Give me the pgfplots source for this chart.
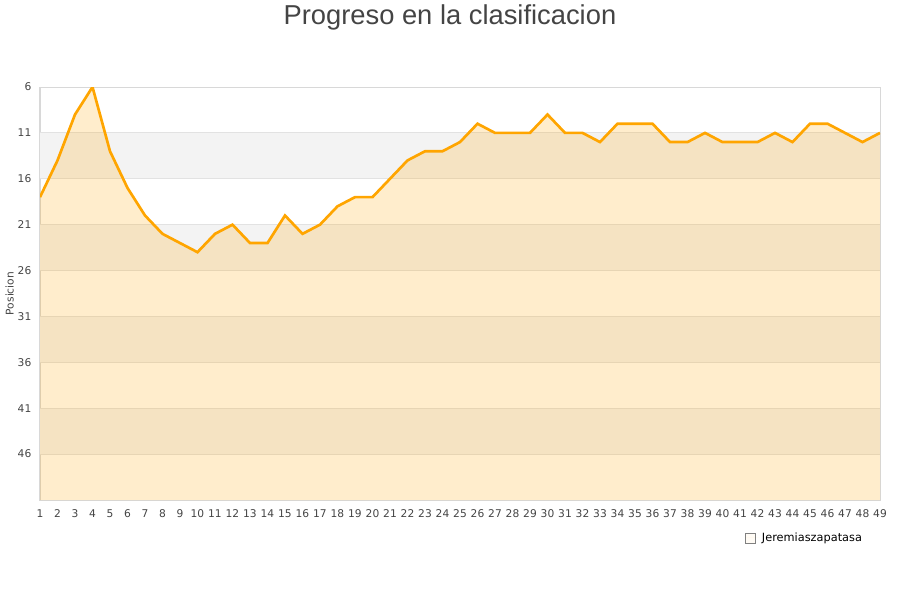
\documentclass[border=0pt]{standalone}
\usepackage{fontspec}
\setmainfont{DejaVu Sans}
\newfontfamily\titlefont{Liberation Sans}
\usepackage{pgfplots}
\usepackage{pgfplotstable}
\pgfplotsset{compat=1.18}

\definecolor{lineorange}{HTML}{FFA500}
\definecolor{bandgrey}{HTML}{F3F3F3}
\definecolor{gridgrey}{HTML}{E2E2E2}
\definecolor{bordergrey}{HTML}{D8D8D8}
\definecolor{textgrey}{HTML}{444444}

% jornada / posicion
\pgfplotstableread{
j pos
1 18
2 14
3 9
4 6
5 13
6 17
7 20
8 22
9 23
10 24
11 22
12 21
13 23
14 23
15 20
16 22
17 21
18 19
19 18
20 18
21 16
22 14
23 13
24 13
25 12
26 10
27 11
28 11
29 11
30 9
31 11
32 11
33 12
34 10
35 10
36 10
37 12
38 12
39 11
40 12
41 12
42 12
43 11
44 12
45 10
46 10
47 11
48 12
49 11
}\posdata

\begin{document}
\begin{tikzpicture}
\path[use as bounding box] (0,0) rectangle (675pt,450pt);
\begin{axis}[
    at={(30pt,75pt)}, anchor=south west,
    scale only axis, width=630pt, height=309.75pt,
    xmin=1, xmax=49, ymin=6, ymax=51,
    y dir=reverse,
    xtick={1,...,49}, ytick={6,11,...,46},
    major tick length=0pt,
    ymajorgrids,
    grid style={gridgrey, line width=0.75pt},
    axis line style={bordergrey, line width=0.75pt},
    /pgf/number format/assume math mode=true,
    tick label style={font=\fontsize{8}{9.6}\selectfont, text=textgrey},
    yticklabel style={xshift=-3pt},
    xticklabel style={yshift=-4pt},
    ylabel={Posicion},
    ylabel style={font=\fontsize{8}{9.6}\selectfont, text=textgrey,
        at={(axis description cs:-0.036,0.5)}, anchor=center},
    title={Progreso en la clasificacion},
    title style={font=\titlefont\fontsize{20.5}{24}\selectfont, text=textgrey,
        at={(axis description cs:0.488,1.150)}, anchor=center},
    legend style={at={(axis description cs:0.839,-0.092)}, anchor=west,
        draw=none, fill=none, inner sep=0pt,
        font=\fontsize{8.5}{10}\selectfont},
    legend image code/.code={
        \draw[fill=lineorange!20, draw=black!50, line width=0.4pt]
            (0pt,-3.6pt) rectangle (7.2pt,3.6pt);
        \path (0pt,0pt) -- (10.5pt,0pt);},
  ]
  % alternating background bands
  \addplot[draw=none, fill=bandgrey, forget plot] coordinates {(1,11) (49,11) (49,16) (1,16)} -- cycle;
  \addplot[draw=none, fill=bandgrey, forget plot] coordinates {(1,21) (49,21) (49,26) (1,26)} -- cycle;
  \addplot[draw=none, fill=bandgrey, forget plot] coordinates {(1,31) (49,31) (49,36) (1,36)} -- cycle;
  \addplot[draw=none, fill=bandgrey, forget plot] coordinates {(1,41) (49,41) (49,46) (1,46)} -- cycle;
  % redraw grid lines over the bands
  \pgfplotsinvokeforeach{11,16,21,26,31,36,41,46}{
    \addplot[gridgrey, line width=0.75pt, forget plot] coordinates {(1,#1) (49,#1)};
  }

  \addplot[draw=none, fill=lineorange, fill opacity=0.2] table[x=j, y=pos] {\posdata}
      -- (axis cs:49,51) -- (axis cs:1,51) -- cycle;
  \addlegendentry{Jeremiaszapatasa}
  \addplot[lineorange, line width=2pt, forget plot] table[x=j, y=pos] {\posdata};
\end{axis}
\end{tikzpicture}
\end{document}
